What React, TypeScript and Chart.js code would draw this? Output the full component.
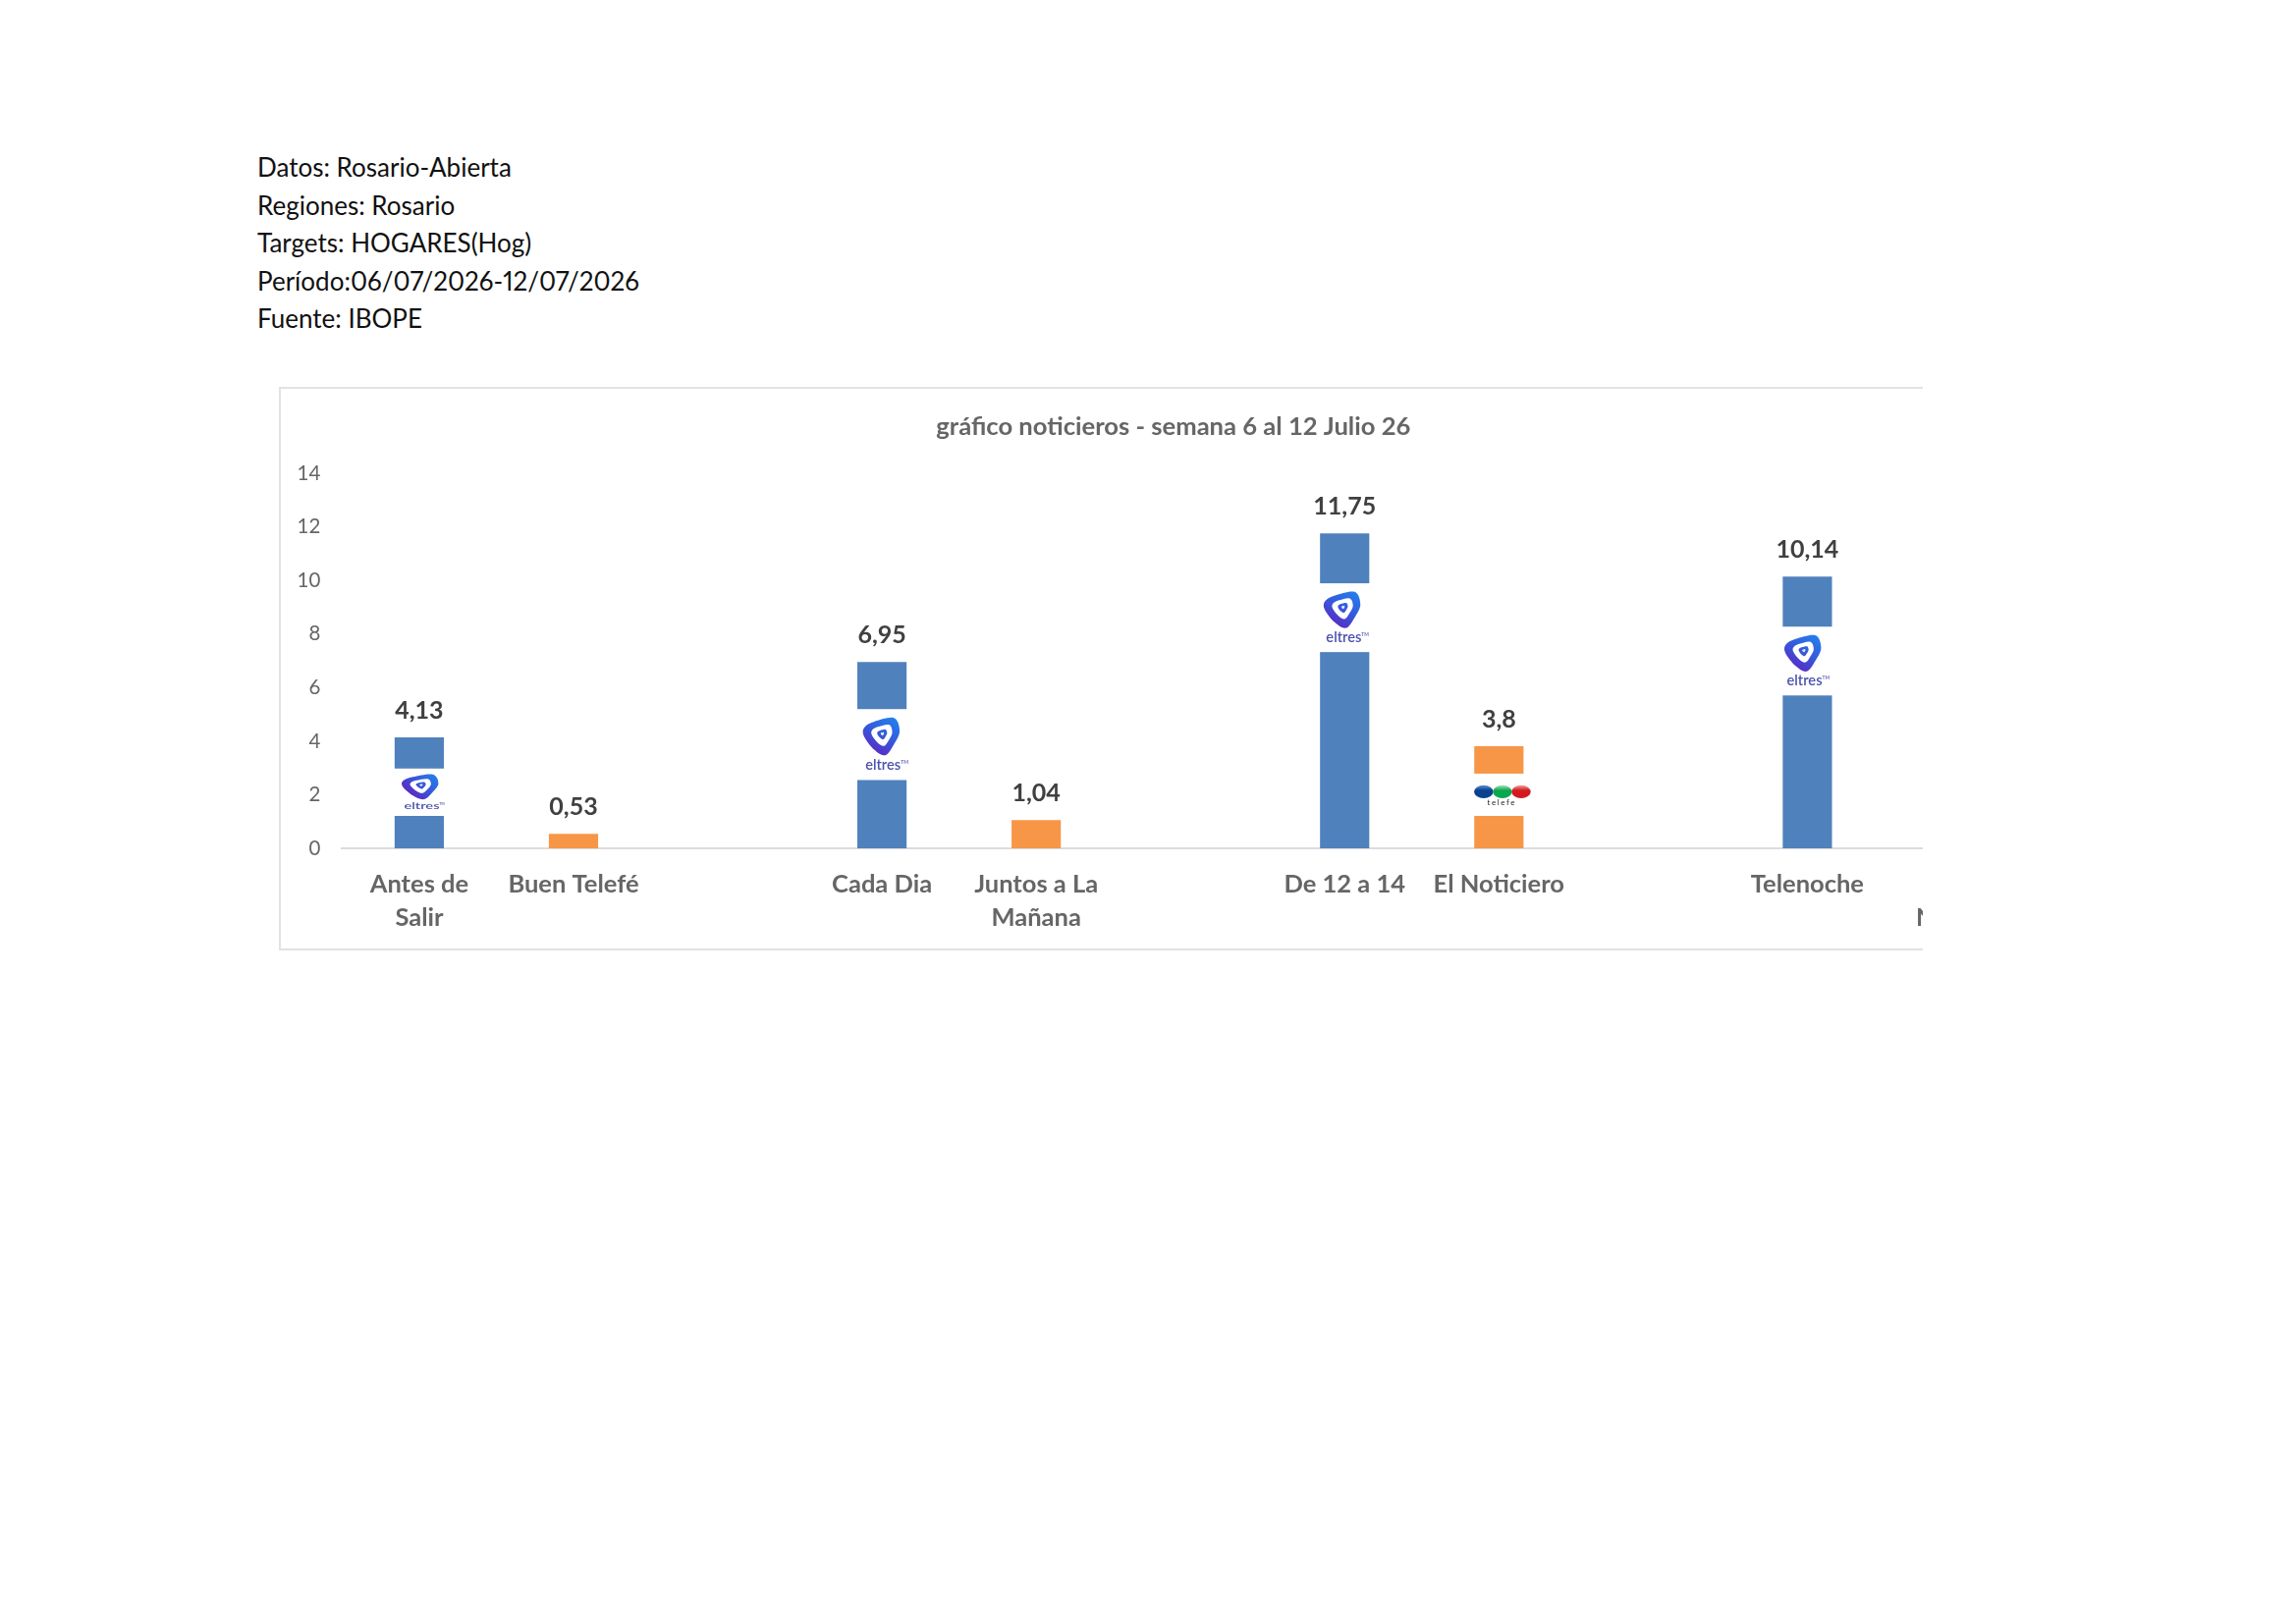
import React, { useEffect, useRef } from "react";
import { Chart, registerables } from "chart.js";

Chart.register(...registerables);

const infoLines = [
  "Datos: Rosario-Abierta",
  "Regiones: Rosario",
  "Targets: HOGARES(Hog)",
  "Período:06/07/2026-12/07/2026",
  "Fuente: IBOPE",
];
const chartTitle = "gráfico noticieros - semana 6 al 12 Julio 26";
const categories = [
  ["Antes de", "Salir"],
  "Buen Telefé",
  "",
  "Cada Dia",
  ["Juntos a La", "Mañana"],
  "",
  "De 12 a 14",
  "El Noticiero",
  "",
  "Telenoche",
  ["Telefé", "Noticias"],
];
// The last bar lies outside the cropped picture, so its value cannot be read.
const values = [4.13, 0.53, null, 6.95, 1.04, null, 11.75, 3.8, null, 10.14, null];
const channels = ["eltres", "telefe", "", "eltres", "telefe", "", "eltres", "telefe", "", "eltres", "telefe"];
const channelColors: Record<string, string> = { eltres: "#4f81bd", telefe: "#f79646", "": "#4f81bd" };

// Logo overlays: category index, gap top and bottom on the value axis, sideways shift
const logoOverlays: { index: number; top: number; bottom: number; kind: string; shift: number }[] = [
  { index: 0, top: 2.98, bottom: 1.21, kind: "eltres", shift: 1 },
  { index: 3, top: 5.2, bottom: 2.55, kind: "eltres", shift: -0.5 },
  { index: 6, top: 9.9, bottom: 7.33, kind: "eltres", shift: -2.5 },
  { index: 7, top: 2.79, bottom: 1.21, kind: "telefe", shift: 0 },
  { index: 9, top: 8.28, bottom: 5.71, kind: "eltres", shift: -4.5 },
];

const FONT = "Lato, sans-serif";

// Outline of the logo shape, in a unit box
const blob = [
  [0.84, 0], [1, 0.35], [0.84, 0.71], [0.6, 1], [0.29, 0.85], [0, 0.48], [0.02, 0.25], [0.29, 0.1],
];

function blobPath(ctx: CanvasRenderingContext2D, x: number, y: number, w: number, h: number, k: number, fill: string | CanvasGradient) {
  const cx = 0.52, cy = 0.42;
  const p = blob.map(([px, py]) => [x + (cx + (px - cx) * k) * w, y + (cy + (py - cy) * k) * h]);
  const n = p.length;
  ctx.beginPath();
  ctx.moveTo(p[0][0], p[0][1]);
  for (let i = 0; i < n; i++) {
    const a = p[(i - 1 + n) % n], b = p[i], c = p[(i + 1) % n], d = p[(i + 2) % n];
    ctx.bezierCurveTo(
      b[0] + (c[0] - a[0]) / 6, b[1] + (c[1] - a[1]) / 6,
      c[0] - (d[0] - b[0]) / 6, c[1] - (d[1] - b[1]) / 6,
      c[0], c[1],
    );
  }
  ctx.closePath();
  ctx.fillStyle = fill;
  ctx.fill();
}

function drawEltres(ctx: CanvasRenderingContext2D, cx: number, top: number, bottom: number) {
  const h = bottom - top;
  const bw = 36.5;
  const bx = cx - 18;
  const by = top + h * 0.125;
  const bh = h * 0.525;
  const g = ctx.createLinearGradient(bx + bw, by, bx + bw * 0.4, by + bh);
  g.addColorStop(0, "#2384ee");
  g.addColorStop(0.55, "#3559dc");
  g.addColorStop(1, "#5a2bc4");
  blobPath(ctx, bx, by, bw, bh, 1, g);
  blobPath(ctx, bx, by, bw, bh, 0.57, "#ffffff");
  blobPath(ctx, bx, by, bw, bh, 0.27, g);
  blobPath(ctx, bx, by, bw, bh, 0.09, "#dfe6fa");

  const size = h * 0.205;
  ctx.font = `600 ${size}px ${FONT}`;
  ctx.fillStyle = "#4a52ae";
  ctx.textAlign = "left";
  ctx.textBaseline = "alphabetic";
  const word = "eltres";
  const sx = 36 / ctx.measureText(word).width;
  const base = top + h * 0.855;
  ctx.save();
  ctx.translate(cx - 16.4, base);
  ctx.scale(sx, 1);
  ctx.fillText(word, 0, 0);
  ctx.restore();
  ctx.font = `600 ${size * 0.34}px ${FONT}`;
  ctx.fillText("TM", cx + 19.6, base - size * 0.42);
}

function drawTelefe(ctx: CanvasRenderingContext2D, cx: number, top: number) {
  const colors = [
    ["#5f8fd0", "#0b3f8f"],
    ["#a5e3b4", "#0aa650"],
    ["#f0a09a", "#d21a1e"],
  ];
  const rx = 9.7;
  const ry = 6.6;
  colors.forEach(([light, dark], i) => {
    const ox = cx - 15.5 + i * 19.1;
    const oy = top + 18.5;
    const g = ctx.createLinearGradient(0, oy - ry, 0, oy + ry);
    g.addColorStop(0, light);
    g.addColorStop(0.4, dark);
    g.addColorStop(1, dark);
    ctx.beginPath();
    ctx.ellipse(ox, oy, rx, ry, 0, 0, Math.PI * 2);
    ctx.fillStyle = g;
    ctx.fill();
  });
  ctx.font = `400 8px ${FONT}`;
  ctx.fillStyle = "#222222";
  ctx.textAlign = "center";
  ctx.textBaseline = "middle";
  (ctx as any).letterSpacing = "1.6px";
  ctx.fillText("telefe", cx + 3, top + 29.5);
  (ctx as any).letterSpacing = "0px";
}

const overlayPlugin = {
  id: "overlay",
  afterLayout(chart: any) {
    // The title is centred on the full chart frame, which runs past the plot's right end.
    chart.titleBlock.left = 28.6;
  },
  afterDatasetsDraw(chart: any) {
    const { ctx, scales } = chart;
    const meta = chart.getDatasetMeta(0);
    ctx.save();
    logoOverlays.forEach((o) => {
      const bar = meta.data[o.index];
      const top = scales.y.getPixelForValue(o.top);
      const bottom = scales.y.getPixelForValue(o.bottom);
      ctx.fillStyle = "#ffffff";
      ctx.fillRect(bar.x - 27, top, 60, bottom - top);
      if (o.kind === "eltres") drawEltres(ctx, bar.x + o.shift, top, bottom);
      else drawTelefe(ctx, bar.x + o.shift, top);
    });
    values.forEach((v, i) => {
      if (v === null) return;
      const bar = meta.data[i];
      ctx.font = `700 25px ${FONT}`;
      ctx.fillStyle = "#404040";
      ctx.textAlign = "center";
      ctx.textBaseline = "middle";
      ctx.fillText(String(v).replace(".", ","), bar.x, bar.y - 27.5);
    });
    ctx.restore();
  },
};

export default function App() {
  const ref = useRef<HTMLCanvasElement | null>(null);
  useEffect(() => {
    if (!ref.current) return;
    const chart = new Chart(ref.current, {
      type: "bar",
      data: {
        labels: categories as any,
        datasets: [
          {
            data: values as any,
            backgroundColor: channels.map((c) => channelColors[c]),
            barThickness: 49.5,
          },
        ],
      },
      options: {
        animation: false,
        responsive: false,
        devicePixelRatio: 1,
        layout: { padding: 0 },
        plugins: {
          legend: { display: false },
          tooltip: { enabled: false },
          title: {
            display: true,
            text: chartTitle,
            color: "#666666",
            font: { family: FONT, size: 25.6, weight: "bold", lineHeight: 1.3 },
            padding: { top: 22, bottom: 31 },
          },
        },
        scales: {
          x: {
            grid: { display: false },
            border: { display: true, color: "#dcdcdc", width: 2 },
            ticks: {
              color: "#666666",
              autoSkip: false,
              maxRotation: 0,
              minRotation: 0,
              padding: 12,
              font: { family: FONT, size: 25.5, weight: "bold", lineHeight: 1.333 },
            },
            afterFit(s: any) {
              s.height = 104;
            },
          },
          y: {
            min: 0,
            max: 14,
            grid: { display: false, drawTicks: false },
            border: { display: false },
            ticks: {
              stepSize: 2,
              color: "#666666",
              padding: 22,
              font: { family: FONT, size: 20.5 },
            },
            afterFit(s: any) {
              s.width = 63.4;
            },
          },
        },
      },
      plugins: [overlayPlugin],
    } as any);
    return () => chart.destroy();
  }, []);

  return (
    <div style={{ position: "fixed", inset: 0, background: "#ffffff", overflow: "hidden" }}>
      <div
        style={{
          position: "absolute",
          left: 262,
          top: 151,
          fontFamily: FONT,
          fontSize: 26,
          lineHeight: "38.5px",
          color: "#111111",
          whiteSpace: "nowrap",
          fontVariantNumeric: "proportional-nums",
        }}
      >
        {infoLines.map((l) => (
          <div key={l}>{l}</div>
        ))}
      </div>
      <div
        style={{
          position: "absolute",
          left: 284,
          top: 394,
          width: 1674,
          height: 574,
          boxSizing: "border-box",
          borderLeft: "2px solid #e2e2e2",
          borderTop: "2px solid #e2e2e2",
          borderBottom: "2px solid #e2e2e2",
          overflow: "hidden",
        }}
      >
        <canvas
          ref={ref}
          width={1791}
          height={572}
          style={{ position: "absolute", left: -1, top: 0, width: 1791, height: 572 }}
        />
      </div>
    </div>
  );
}
